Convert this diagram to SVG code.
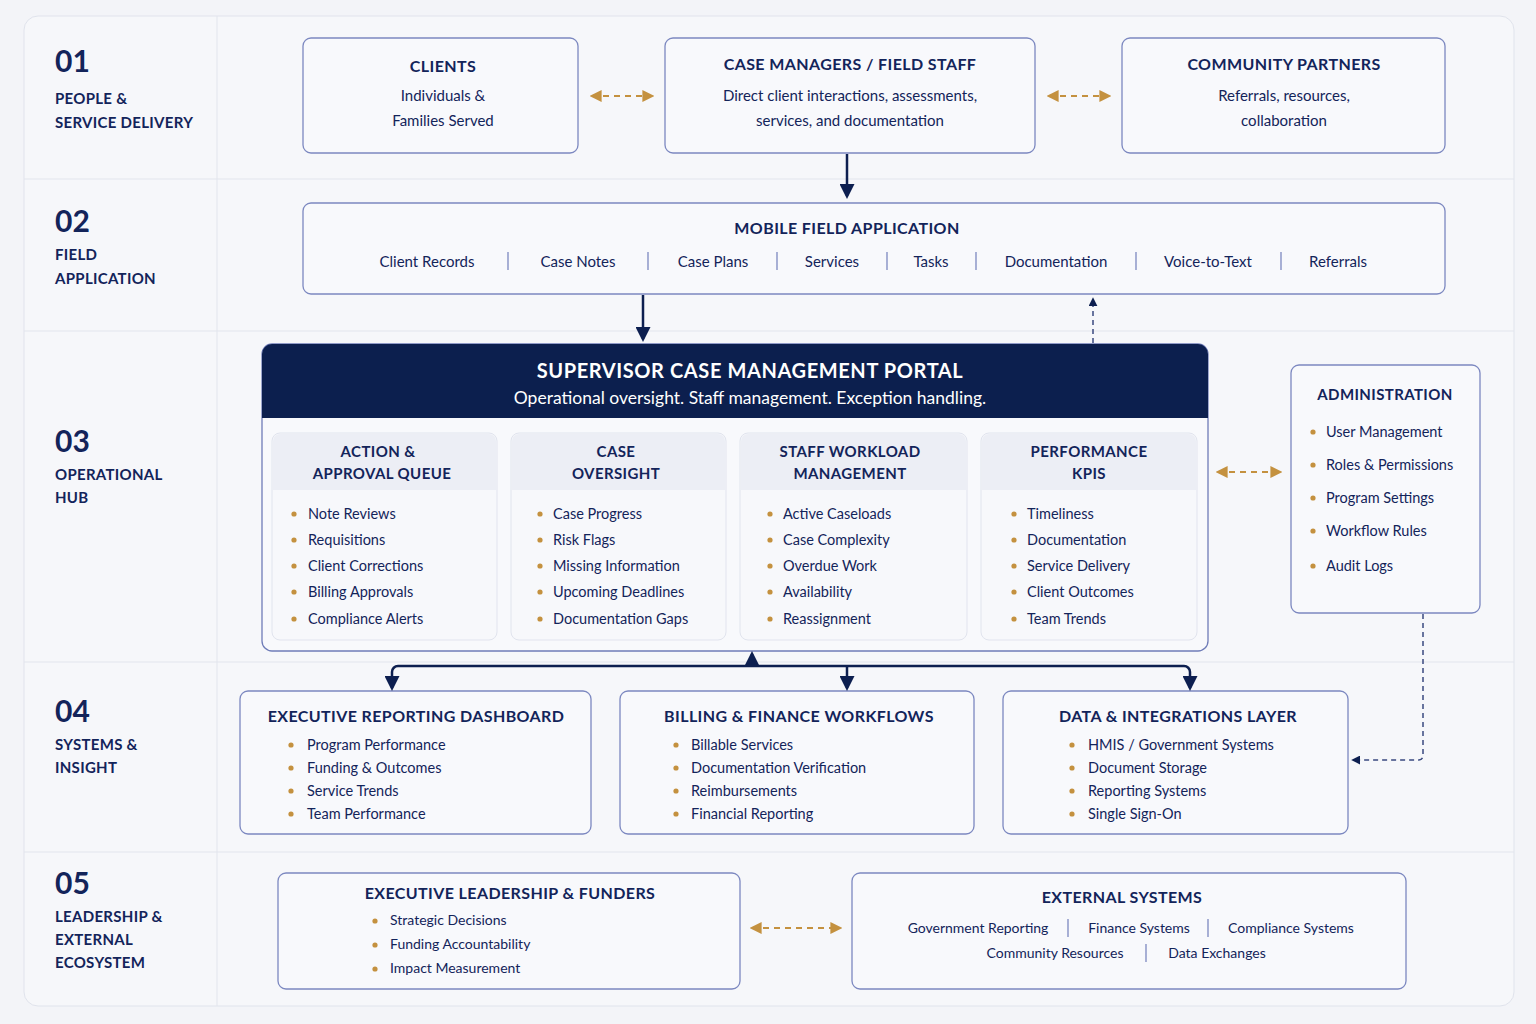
<svg xmlns="http://www.w3.org/2000/svg" width="1536" height="1024" viewBox="0 0 1536 1024">
<defs>
<style>
text{font-family:Lato,"Open Sans","Liberation Sans",sans-serif;fill:#13245a}
.num{font-size:30px;font-weight:700}
.lab{font-size:15px;font-weight:700;letter-spacing:.3px}
.box{fill:#f8f9fc;stroke:#7c88c0;stroke-width:1.3}
.t{font-size:16px;font-weight:700;text-anchor:middle;letter-spacing:.4px}
.s{font-size:15px;text-anchor:middle}
.i{font-size:14.5px}
.sep{stroke:#7c88c0;stroke-width:1.3}
.card{fill:#f7f8fb;stroke:#e1e4ee;stroke-width:1}
.band{fill:#eceef5}
.bul{fill:#c4913f}
.nav{stroke:#0d1f50;stroke-width:2.5;fill:none}
.dnav{stroke:#3a4a80;stroke-width:1.5;fill:none;stroke-dasharray:5 4}
.gold{stroke:#c4913f;stroke-width:2;fill:none;stroke-dasharray:6 5}
</style>
<marker id="an" viewBox="0 0 10 10" refX="8" refY="5" markerWidth="6" markerHeight="6" orient="auto-start-reverse"><path d="M0,0L10,5L0,10z" fill="#0d1f50"/></marker>
<marker id="ag" viewBox="0 0 10 10" refX="8" refY="5" markerWidth="6" markerHeight="6" orient="auto-start-reverse"><path d="M0,0L10,5L0,10z" fill="#c4913f"/></marker>
</defs>
<rect width="1536" height="1024" fill="#f3f4f8"/>
<rect x="24" y="16" width="1490" height="990" rx="14" fill="#f6f7fa" stroke="#e0e3ec"/>
<g stroke="#e2e5ed" stroke-width="1">
<line x1="217" y1="16" x2="217" y2="1006"/>
<line x1="24" y1="179" x2="1514" y2="179"/>
<line x1="24" y1="331" x2="1514" y2="331"/>
<line x1="24" y1="662" x2="1514" y2="662"/>
<line x1="24" y1="852" x2="1514" y2="852"/>
</g>
<g id="rows">
<text class="num" x="55" y="72">01</text><text class="lab" x="55" y="104">PEOPLE &amp;</text><text class="lab" x="55" y="128">SERVICE DELIVERY</text>
<text class="num" x="55" y="232">02</text><text class="lab" x="55" y="260">FIELD</text><text class="lab" x="55" y="284">APPLICATION</text>
<text class="num" x="55" y="452">03</text><text class="lab" x="55" y="480">OPERATIONAL</text><text class="lab" x="55" y="503">HUB</text>
<text class="num" x="55" y="722">04</text><text class="lab" x="55" y="750">SYSTEMS &amp;</text><text class="lab" x="55" y="773">INSIGHT</text>
<text class="num" x="55" y="894">05</text><text class="lab" x="55" y="922">LEADERSHIP &amp;</text><text class="lab" x="55" y="945">EXTERNAL</text><text class="lab" x="55" y="968">ECOSYSTEM</text>
</g>
<g id="clients"><rect class="box" x="303" y="38" width="275" height="115" rx="8"/><text class="t" x="443" y="72">CLIENTS</text><text class="s" x="443" y="101">Individuals &amp;</text><text class="s" x="443" y="126">Families Served</text></g>
<g id="casemgr"><rect class="box" x="665" y="38" width="370" height="115" rx="8"/><text class="t" x="850" y="70">CASE MANAGERS / FIELD STAFF</text><text class="s" x="850" y="101">Direct client interactions, assessments,</text><text class="s" x="850" y="126">services, and documentation</text></g>
<g id="partners"><rect class="box" x="1122" y="38" width="323" height="115" rx="8"/><text class="t" x="1284" y="70">COMMUNITY PARTNERS</text><text class="s" x="1284" y="101">Referrals, resources,</text><text class="s" x="1284" y="126">collaboration</text></g>
<g id="mobile"><rect class="box" x="303" y="203" width="1142" height="91" rx="8"/><text class="t" x="847" y="234">MOBILE FIELD APPLICATION</text>
<g class="s"><text class="s" x="427" y="267">Client Records</text><text class="s" x="578" y="267">Case Notes</text><text class="s" x="713" y="267">Case Plans</text><text class="s" x="832" y="267">Services</text><text class="s" x="931" y="267">Tasks</text><text class="s" x="1056" y="267">Documentation</text><text class="s" x="1208" y="267">Voice-to-Text</text><text class="s" x="1338" y="267">Referrals</text></g>
<g class="sep"><line x1="508" y1="252" x2="508" y2="270"/><line x1="648" y1="252" x2="648" y2="270"/><line x1="777" y1="252" x2="777" y2="270"/><line x1="887" y1="252" x2="887" y2="270"/><line x1="976" y1="252" x2="976" y2="270"/><line x1="1136" y1="252" x2="1136" y2="270"/><line x1="1281" y1="252" x2="1281" y2="270"/></g></g>
<g id="portal">
<rect x="262" y="344" width="946" height="307" rx="10" fill="#f8f9fc" stroke="#6f7cb8" stroke-width="1.3"/>
<path d="M262,418V354a10,10 0 0 1 10,-10H1198a10,10 0 0 1 10,10V418z" fill="#0c1f4e"/>
<text x="750" y="378" style="font-size:20px;font-weight:700;text-anchor:middle;fill:#fff;letter-spacing:.6px">SUPERVISOR CASE MANAGEMENT PORTAL</text>
<text x="750" y="404" style="font-size:17.5px;text-anchor:middle;fill:#fff">Operational oversight. Staff management. Exception handling.</text>
<g>
<rect class="card" x="272" y="433" width="225" height="207" rx="8"/><path class="band" d="M273,490V441a7,7 0 0 1 7,-7H489a7,7 0 0 1 7,7V490z"/>
<text class="t" x="378" y="457" style="font-size:15px">ACTION &amp;</text><text class="t" x="382" y="479" style="font-size:15px">APPROVAL QUEUE</text>
<g class="bul"><circle cx="294" cy="514" r="2.6"/><circle cx="294" cy="540" r="2.6"/><circle cx="294" cy="566" r="2.6"/><circle cx="294" cy="592" r="2.6"/><circle cx="294" cy="619" r="2.6"/></g>
<text class="i" x="308" y="519">Note Reviews</text><text class="i" x="308" y="545">Requisitions</text><text class="i" x="308" y="571">Client Corrections</text><text class="i" x="308" y="597">Billing Approvals</text><text class="i" x="308" y="624">Compliance Alerts</text>
</g>
<g>
<rect class="card" x="511" y="433" width="215" height="207" rx="8"/><path class="band" d="M512,490V441a7,7 0 0 1 7,-7H718a7,7 0 0 1 7,7V490z"/>
<text class="t" x="616" y="457" style="font-size:15px">CASE</text><text class="t" x="616" y="479" style="font-size:15px">OVERSIGHT</text>
<g class="bul"><circle cx="540" cy="514" r="2.6"/><circle cx="540" cy="540" r="2.6"/><circle cx="540" cy="566" r="2.6"/><circle cx="540" cy="592" r="2.6"/><circle cx="540" cy="619" r="2.6"/></g>
<text class="i" x="553" y="519">Case Progress</text><text class="i" x="553" y="545">Risk Flags</text><text class="i" x="553" y="571">Missing Information</text><text class="i" x="553" y="597">Upcoming Deadlines</text><text class="i" x="553" y="624">Documentation Gaps</text>
</g>
<g>
<rect class="card" x="740" y="433" width="227" height="207" rx="8"/><path class="band" d="M741,490V441a7,7 0 0 1 7,-7H959a7,7 0 0 1 7,7V490z"/>
<text class="t" x="850" y="457" style="font-size:15px">STAFF WORKLOAD</text><text class="t" x="850" y="479" style="font-size:15px">MANAGEMENT</text>
<g class="bul"><circle cx="770" cy="514" r="2.6"/><circle cx="770" cy="540" r="2.6"/><circle cx="770" cy="566" r="2.6"/><circle cx="770" cy="592" r="2.6"/><circle cx="770" cy="619" r="2.6"/></g>
<text class="i" x="783" y="519">Active Caseloads</text><text class="i" x="783" y="545">Case Complexity</text><text class="i" x="783" y="571">Overdue Work</text><text class="i" x="783" y="597">Availability</text><text class="i" x="783" y="624">Reassignment</text>
</g>
<g>
<rect class="card" x="981" y="433" width="216" height="207" rx="8"/><path class="band" d="M982,490V441a7,7 0 0 1 7,-7H1189a7,7 0 0 1 7,7V490z"/>
<text class="t" x="1089" y="457" style="font-size:15px">PERFORMANCE</text><text class="t" x="1089" y="479" style="font-size:15px">KPIS</text>
<g class="bul"><circle cx="1014" cy="514" r="2.6"/><circle cx="1014" cy="540" r="2.6"/><circle cx="1014" cy="566" r="2.6"/><circle cx="1014" cy="592" r="2.6"/><circle cx="1014" cy="619" r="2.6"/></g>
<text class="i" x="1027" y="519">Timeliness</text><text class="i" x="1027" y="545">Documentation</text><text class="i" x="1027" y="571">Service Delivery</text><text class="i" x="1027" y="597">Client Outcomes</text><text class="i" x="1027" y="624">Team Trends</text>
</g>
</g>
<g id="admin"><rect class="box" x="1291" y="365" width="189" height="248" rx="8"/><text class="t" x="1385" y="400" style="font-size:15px">ADMINISTRATION</text>
<g class="bul"><circle cx="1313" cy="432" r="2.6"/><circle cx="1313" cy="465" r="2.6"/><circle cx="1313" cy="498" r="2.6"/><circle cx="1313" cy="531" r="2.6"/><circle cx="1313" cy="566" r="2.6"/></g>
<text class="i" x="1326" y="437">User Management</text><text class="i" x="1326" y="470">Roles &amp; Permissions</text><text class="i" x="1326" y="503">Program Settings</text><text class="i" x="1326" y="536">Workflow Rules</text><text class="i" x="1326" y="571">Audit Logs</text></g>
<g id="exec"><rect class="box" x="240" y="691" width="351" height="143" rx="8"/><text class="t" x="416" y="722">EXECUTIVE REPORTING DASHBOARD</text>
<g class="bul"><circle cx="291" cy="745" r="2.6"/><circle cx="291" cy="768" r="2.6"/><circle cx="291" cy="791" r="2.6"/><circle cx="291" cy="814" r="2.6"/></g>
<text class="i" x="307" y="750">Program Performance</text><text class="i" x="307" y="773">Funding &amp; Outcomes</text><text class="i" x="307" y="796">Service Trends</text><text class="i" x="307" y="819">Team Performance</text></g>
<g id="billing"><rect class="box" x="620" y="691" width="354" height="143" rx="8"/><text class="t" x="799" y="722">BILLING &amp; FINANCE WORKFLOWS</text>
<g class="bul"><circle cx="676" cy="745" r="2.6"/><circle cx="676" cy="768" r="2.6"/><circle cx="676" cy="791" r="2.6"/><circle cx="676" cy="814" r="2.6"/></g>
<text class="i" x="691" y="750">Billable Services</text><text class="i" x="691" y="773">Documentation Verification</text><text class="i" x="691" y="796">Reimbursements</text><text class="i" x="691" y="819">Financial Reporting</text></g>
<g id="data"><rect class="box" x="1003" y="691" width="345" height="143" rx="8"/><text class="t" x="1178" y="722">DATA &amp; INTEGRATIONS LAYER</text>
<g class="bul"><circle cx="1072" cy="745" r="2.6"/><circle cx="1072" cy="768" r="2.6"/><circle cx="1072" cy="791" r="2.6"/><circle cx="1072" cy="814" r="2.6"/></g>
<text class="i" x="1088" y="750">HMIS / Government Systems</text><text class="i" x="1088" y="773">Document Storage</text><text class="i" x="1088" y="796">Reporting Systems</text><text class="i" x="1088" y="819">Single Sign-On</text></g>
<g id="leaders"><rect class="box" x="278" y="873" width="462" height="116" rx="8"/><text class="t" x="510" y="899">EXECUTIVE LEADERSHIP &amp; FUNDERS</text>
<g class="bul"><circle cx="375" cy="921" r="2.6"/><circle cx="375" cy="945" r="2.6"/><circle cx="375" cy="969" r="2.6"/></g>
<text class="i" x="390" y="925" style="font-size:14px">Strategic Decisions</text><text class="i" x="390" y="949" style="font-size:14px">Funding Accountability</text><text class="i" x="390" y="973" style="font-size:14px">Impact Measurement</text></g>
<g id="external"><rect class="box" x="852" y="873" width="554" height="116" rx="8"/><text class="t" x="1122" y="903">EXTERNAL SYSTEMS</text>
<text class="s" x="978" y="933" style="font-size:14px">Government Reporting</text><text class="s" x="1139" y="933" style="font-size:14px">Finance Systems</text><text class="s" x="1291" y="933" style="font-size:14px">Compliance Systems</text>
<text class="s" x="1055" y="958" style="font-size:14px">Community Resources</text><text class="s" x="1217" y="958" style="font-size:14px">Data Exchanges</text>
<g class="sep"><line x1="1068" y1="919" x2="1068" y2="937"/><line x1="1208" y1="919" x2="1208" y2="937"/><line x1="1146" y1="944" x2="1146" y2="962"/></g></g>
<g id="connectors">
<line class="gold" x1="592" y1="96" x2="652" y2="96" marker-start="url(#ag)" marker-end="url(#ag)"/>
<line class="gold" x1="1049" y1="96" x2="1109" y2="96" marker-start="url(#ag)" marker-end="url(#ag)"/>
<line class="nav" x1="847" y1="154" x2="847" y2="196" marker-end="url(#an)"/>
<line class="nav" x1="643" y1="295" x2="643" y2="339" marker-end="url(#an)"/>
<line class="dnav" x1="1093" y1="343" x2="1093" y2="299" marker-end="url(#an)"/>
<line class="gold" x1="1218" y1="472" x2="1280" y2="472" marker-start="url(#ag)" marker-end="url(#ag)"/>
<path class="nav" d="M392,688V672a6,6 0 0 1 6,-6H1184a6,6 0 0 1 6,6V688" marker-start="url(#an)" marker-end="url(#an)"/>
<line class="nav" x1="847" y1="666" x2="847" y2="688" marker-end="url(#an)"/>
<line class="nav" x1="752" y1="666" x2="752" y2="654" stroke-width="1.8" marker-end="url(#an)"/>
<path class="dnav" d="M1423,614V756a4,4 0 0 1 -4,4H1353" marker-end="url(#an)"/>
<line class="gold" x1="752" y1="928" x2="840" y2="928" marker-start="url(#ag)" marker-end="url(#ag)"/>
</g>
</svg>
